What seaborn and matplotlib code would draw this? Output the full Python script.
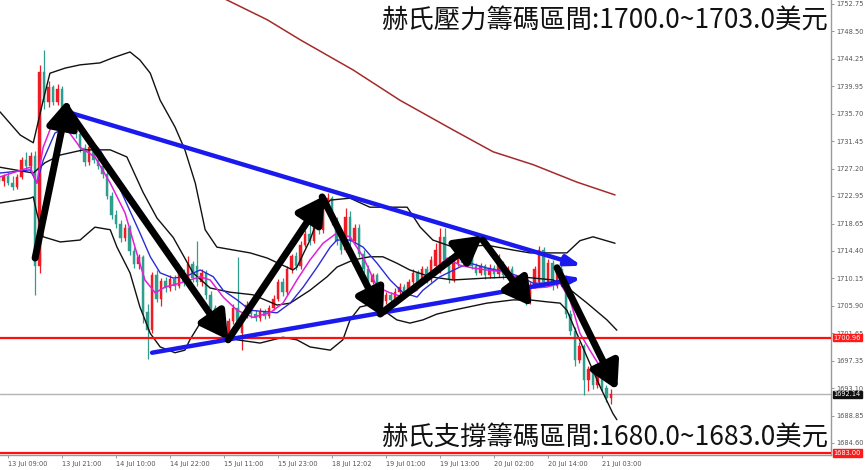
import numpy as np
import pandas as pd
import matplotlib
matplotlib.use('Agg')
import matplotlib.pyplot as plt
import matplotlib.transforms as mtransforms
import seaborn as sns

# 1小时K线 (开, 高, 低, 收)
opens = [1725.8, 1725.2, 1726.0, 1725.0, 1724.4, 1725.9, 1728.6, 1727.6, 1729.2, 1712.0,
         1742.2, 1737.5, 1739.8, 1737.6, 1739.6, 1736.0, 1734.0, 1735.4, 1732.6, 1730.4,
         1728.2, 1730.6, 1728.6, 1727.6, 1726.4, 1723.0, 1720.0, 1718.6, 1716.4, 1718.0,
         1714.4, 1712.4, 1713.4, 1705.0, 1702.2, 1710.6, 1707.0, 1709.8, 1708.6, 1710.0,
         1709.0, 1711.0, 1709.6, 1712.4, 1712.0, 1709.6, 1711.0, 1707.6, 1705.6, 1703.6,
         1702.0, 1701.2, 1703.6, 1705.6, 1701.6, 1704.6, 1706.0, 1704.6, 1704.0, 1705.0,
         1704.3, 1705.6, 1707.0, 1709.6, 1708.0, 1711.6, 1713.6, 1712.0, 1715.4, 1717.0,
         1716.0, 1719.0, 1717.6, 1721.4, 1722.6, 1719.0, 1716.0, 1714.6, 1719.6, 1716.0,
         1718.0, 1714.0, 1711.6, 1709.6, 1710.6, 1707.6, 1706.6, 1707.6, 1706.8, 1708.0,
         1708.8, 1708.0, 1709.6, 1711.0, 1709.6, 1711.6, 1710.0, 1712.0, 1711.6, 1716.6,
         1713.0, 1710.0, 1712.6, 1714.6, 1712.6, 1713.6, 1712.0, 1711.0, 1712.0, 1710.6,
         1711.8, 1710.8, 1712.4, 1710.6, 1711.6, 1709.6, 1708.6, 1707.6, 1706.6, 1709.0,
         1709.6, 1714.6, 1709.6, 1712.6, 1709.0, 1711.6, 1710.2, 1704.6, 1702.0, 1697.4,
         1699.6, 1694.4, 1696.0, 1693.6, 1695.6, 1693.2, 1691.6]
highs = [1726.8, 1726.4, 1726.6, 1726.0, 1726.4, 1729.0, 1729.7, 1729.8, 1730.0, 1743.2,
         1745.6, 1740.8, 1740.2, 1740.4, 1740.0, 1736.8, 1736.0, 1735.8, 1733.2, 1731.0,
         1731.2, 1731.0, 1729.2, 1728.2, 1726.8, 1723.6, 1720.8, 1719.2, 1718.6, 1718.4,
         1715.0, 1714.0, 1713.8, 1706.2, 1711.2, 1711.4, 1710.2, 1710.4, 1710.6, 1710.6,
         1711.6, 1711.6, 1713.6, 1712.8, 1716.0, 1711.6, 1711.4, 1708.2, 1706.0, 1704.2,
         1702.6, 1704.0, 1706.2, 1713.4, 1705.0, 1706.6, 1706.4, 1705.2, 1705.6, 1705.4,
         1706.0, 1707.6, 1710.0, 1710.2, 1712.0, 1714.0, 1714.2, 1716.0, 1717.6, 1719.6,
         1719.6, 1719.6, 1722.0, 1723.4, 1723.0, 1719.6, 1716.6, 1721.0, 1720.6, 1718.6,
         1718.6, 1714.6, 1712.2, 1711.0, 1711.0, 1708.2, 1708.0, 1708.0, 1708.6, 1709.4,
         1709.2, 1710.0, 1711.6, 1711.4, 1712.0, 1712.0, 1713.6, 1715.6, 1718.0, 1718.0,
         1713.6, 1713.0, 1715.6, 1715.0, 1714.0, 1714.0, 1712.6, 1712.6, 1712.4, 1712.4,
         1712.2, 1714.0, 1712.8, 1712.0, 1712.0, 1710.0, 1709.0, 1708.0, 1709.6, 1712.0,
         1715.2, 1715.0, 1713.2, 1713.0, 1712.0, 1713.6, 1710.6, 1705.2, 1702.6, 1700.2,
         1700.0, 1696.6, 1696.4, 1696.0, 1696.0, 1693.6, 1693.0]
lows = [1725.0, 1724.5, 1724.6, 1723.9, 1724.0, 1725.5, 1727.2, 1727.0, 1707.5, 1711.0,
        1736.5, 1736.8, 1737.0, 1737.0, 1735.4, 1733.2, 1733.5, 1732.0, 1729.8, 1727.6,
        1727.8, 1728.0, 1727.2, 1725.8, 1722.4, 1719.4, 1718.0, 1715.8, 1716.0, 1713.8,
        1711.8, 1711.6, 1703.2, 1697.6, 1701.6, 1706.4, 1705.8, 1708.0, 1708.2, 1708.4,
        1708.6, 1709.0, 1709.2, 1709.6, 1709.0, 1709.0, 1707.0, 1705.0, 1703.0, 1701.6,
        1700.4, 1700.8, 1703.0, 1703.0, 1699.0, 1704.0, 1704.0, 1703.6, 1703.6, 1703.8,
        1704.0, 1705.2, 1706.6, 1707.4, 1707.6, 1711.0, 1711.4, 1711.6, 1715.0, 1715.4,
        1715.6, 1717.0, 1717.2, 1720.6, 1718.4, 1715.4, 1714.0, 1714.2, 1715.4, 1715.6,
        1713.4, 1711.0, 1709.0, 1709.2, 1707.0, 1706.0, 1706.2, 1706.2, 1706.4, 1707.6,
        1707.4, 1707.6, 1709.2, 1709.0, 1709.2, 1709.4, 1709.6, 1711.6, 1711.0, 1712.4,
        1709.4, 1709.6, 1712.0, 1712.0, 1712.0, 1711.6, 1710.6, 1710.6, 1710.0, 1710.2,
        1710.2, 1710.4, 1710.0, 1710.2, 1709.0, 1708.0, 1707.0, 1706.0, 1706.2, 1708.6,
        1709.2, 1708.8, 1709.2, 1708.4, 1708.6, 1709.6, 1704.0, 1701.4, 1696.6, 1697.0,
        1692.0, 1692.6, 1693.0, 1693.2, 1692.6, 1691.0, 1690.6]
closes = [1725.2, 1726.0, 1725.0, 1724.4, 1725.9, 1728.6, 1727.6, 1729.2, 1712.0, 1742.2,
          1737.5, 1739.8, 1737.6, 1739.6, 1736.0, 1734.0, 1735.4, 1732.6, 1730.4, 1728.2,
          1730.6, 1728.6, 1727.6, 1726.4, 1723.0, 1720.0, 1718.6, 1716.4, 1718.0, 1714.4,
          1712.4, 1713.4, 1705.0, 1702.2, 1710.6, 1707.0, 1709.8, 1708.6, 1710.0, 1709.0,
          1711.0, 1709.6, 1712.4, 1710.2, 1709.6, 1711.0, 1707.6, 1705.6, 1703.6, 1702.0,
          1701.2, 1703.6, 1705.6, 1703.6, 1704.6, 1706.0, 1704.6, 1704.0, 1705.0, 1704.3,
          1705.6, 1707.0, 1709.6, 1708.0, 1711.6, 1713.6, 1712.0, 1715.4, 1717.0, 1716.0,
          1719.0, 1717.6, 1721.4, 1722.6, 1719.0, 1716.0, 1714.6, 1719.6, 1716.0, 1718.0,
          1714.0, 1711.6, 1709.6, 1710.6, 1707.6, 1706.6, 1707.6, 1706.8, 1708.0, 1708.8,
          1708.0, 1709.6, 1711.0, 1709.6, 1711.6, 1710.0, 1713.0, 1714.6, 1716.6, 1713.0,
          1710.0, 1712.6, 1714.6, 1712.6, 1713.6, 1712.0, 1711.0, 1712.0, 1710.6, 1711.8,
          1710.8, 1712.4, 1710.6, 1711.6, 1709.6, 1708.6, 1707.6, 1706.6, 1709.0, 1711.6,
          1714.6, 1709.6, 1712.6, 1709.0, 1711.6, 1710.2, 1704.6, 1702.0, 1697.4, 1699.6,
          1694.4, 1696.0, 1693.6, 1695.6, 1693.2, 1691.6, 1692.14]

# 布林带 (上轨/中轨/下轨) 与均线
upper_idx = [0.2, 4.7, 7.6, 9.8, 11.3, 14.7, 18, 22.4, 25.3, 29.1, 31.3, 33.6, 35.8, 39.1, 41.3,
             43.6, 45.8, 48.4, 55.8, 59.6, 65.3, 66.2, 69.1, 71.3, 73.6, 78, 82.4, 90.7, 93.6,
             96.4, 100.9, 108.4, 114.2, 118, 121.8, 126.2, 129.1, 132, 136.9]
upper_val = [1736.0, 1732.4, 1731.2, 1737.8, 1742.0, 1742.8, 1743.3, 1743.6, 1744.4, 1745.3,
             1744.05, 1742.0, 1737.8, 1733.65, 1730.1, 1724.95, 1717.7, 1715.0, 1714.1, 1713.3,
             1711.45, 1711.9, 1716.1, 1720.3, 1722.3, 1722.6, 1721.2, 1721.2, 1718.1, 1716.1,
             1715.0, 1715.3, 1714.55, 1714.1, 1714.1, 1714.1, 1716.0, 1716.6, 1715.6]
mid_idx = [0.2, 7.6, 10.2, 13.6, 18.7, 24.7, 28.4, 32, 35.1, 38.7, 43.1, 46.9, 51.3, 56.4, 61.8,
           64.7, 69.1, 72.9, 75.1, 78.7, 82.4, 85.3, 88.4, 91.3, 95.8, 100.9, 108.4, 115.8,
           123.1, 126.2, 130.7, 135.1, 137.3]
mid_val = [1727.4, 1726.5, 1728.1, 1729.3, 1730.1, 1730.1, 1729.0, 1723.5, 1719.5, 1716.5,
           1711.0, 1708.65, 1708.0, 1707.6, 1706.0, 1706.3, 1708.3, 1710.4, 1711.9, 1713.0,
           1713.5, 1713.5, 1712.5, 1711.45, 1710.4, 1709.9, 1710.2, 1710.4, 1709.9, 1708.8,
           1706.3, 1703.7, 1702.1]
lower_idx = [0.2, 6.9, 7.6, 8.4, 9.8, 13.6, 18, 21.3, 24.7, 26.2, 29.1, 31.3, 33.6, 35.8, 39.1,
             41.3, 42.4, 44.7, 47.6, 49.8, 52.9, 58, 63.1, 66.2, 69.1, 73.6, 76.4, 78, 80.2,
             84, 86.2, 88.4, 91.3, 94.2, 97.3, 100.9, 108.4, 114.2, 118, 121.8, 124.7, 126.2,
             128.4, 130.7, 133.6, 136.4, 137.3]
lower_val = [1721.85, 1722.6, 1722.8, 1720.3, 1716.6, 1715.8, 1716.1, 1718.1, 1717.7, 1715.0,
             1711.0, 1705.7, 1701.6, 1699.5, 1698.6, 1699.0, 1700.6, 1703.2, 1703.0, 1701.6,
             1700.6, 1700.1, 1701.0, 1700.6, 1699.5, 1699.0, 1700.6, 1703.7, 1705.7, 1706.3,
             1704.8, 1703.7, 1703.2, 1703.7, 1704.6, 1705.2, 1706.3, 1706.8, 1706.8, 1706.5,
             1706.3, 1705.2, 1701.6, 1697.9, 1693.3, 1689.2, 1688.2]
ma_blue_idx = [0.2, 6.9, 8.4, 9.8, 12.4, 15.8, 18, 22.4, 24.7, 28, 31.3, 33.6, 35.8, 38.7, 41.3,
               44.7, 47.6, 49.8, 52.9, 55.8, 61.8, 64.7, 67.6, 70.7, 73.6, 75.1, 78, 80.9, 84,
               86.9, 89.8, 92.9, 94.2, 98, 102.4, 104.7, 108.4, 112.9, 115.8, 118.7, 121.8,
               124.7, 126.9, 129.1, 131.3, 133.6, 135.8, 137.3]
ma_blue_val = [1726.5, 1727.0, 1724.95, 1728.5, 1732.7, 1733.96, 1733.2, 1730.1, 1727.4, 1722.3,
               1717.2, 1713.5, 1711.0, 1710.2, 1710.4, 1711.45, 1710.4, 1708.3, 1706.8, 1705.2,
               1704.8, 1706.3, 1708.8, 1711.9, 1715.0, 1716.1, 1716.1, 1715.0, 1712.5, 1709.9,
               1707.9, 1707.25, 1708.3, 1710.4, 1711.9, 1712.5, 1711.75, 1711.1, 1710.4, 1709.4,
               1709.4, 1709.4, 1707.9, 1704.8, 1701.6, 1698.6, 1696.4, 1694.8]
ma_pink_idx = [0.2, 6.9, 8.4, 9.8, 12.4, 14.7, 18, 21.3, 24.7, 28, 30.2, 32.4, 34.7, 36.9, 40.2,
               44.7, 46.9, 49.8, 52.9, 56.4, 60.2, 63.1, 66.2, 69.1, 72, 75.1, 78, 80.9, 84,
               86.9, 89.8, 92.9, 94.2, 97.3, 99.6, 102.4, 105.3, 108.4, 112.9, 115.8, 118.7,
               121.8, 124.7, 126.9, 129.1, 131.3, 133.6, 135.8]
ma_pink_val = [1725.9, 1727.4, 1724.95, 1730.5, 1735.2, 1733.65, 1730.5, 1729.0, 1724.95, 1720.3,
               1715.0, 1709.9, 1707.9, 1708.8, 1709.4, 1710.4, 1709.9, 1707.25, 1705.2, 1704.1,
               1704.8, 1706.3, 1709.9, 1713.0, 1715.6, 1717.2, 1716.6, 1713.5, 1708.8, 1707.9,
               1707.25, 1708.3, 1709.9, 1711.9, 1713.3, 1712.2, 1711.75, 1711.45, 1711.1, 1709.9,
               1708.65, 1708.8, 1709.4, 1706.8, 1701.6, 1699.0, 1696.4, 1694.5]
ma_long_idx = [49.1, 59.6, 66.9, 78.7, 89.1, 100.9, 109.8, 118.7, 128.4, 136.9]
ma_long_val = [1753.9, 1750.3, 1747.2, 1742.5, 1737.8, 1733.2, 1729.8, 1727.8, 1725.1, 1723.1]

# 横线: 支撑/压力, 当前价
level_support = 1683.00
level_resist = 1700.96
last_price = 1692.14

# 刻度
ytick_vals = [1752.75, 1748.50, 1744.25, 1739.95, 1735.70, 1731.45, 1727.20, 1722.95, 1718.65,
              1714.40, 1710.15, 1705.90, 1701.65, 1697.35, 1693.10, 1688.85, 1684.60]
xtick_labels = ['13 Jul 09:00', '13 Jul 21:00', '14 Jul 10:00', '14 Jul 22:00', '15 Jul 11:00',
                '15 Jul 23:00', '18 Jul 12:02', '19 Jul 01:00', '19 Jul 13:00', '20 Jul 02:00',
                '20 Jul 14:00', '21 Jul 03:00']
xtick_pos = [2, 14, 26, 38, 50, 62, 74, 86, 98, 110, 122, 134]

# 手绘的箭头 (起点 -> 终点)
black_arrows = [((8.0, 1713.3), (15.3, 1737.9)),
                ((15.3, 1736.3), (50.9, 1700.6)),
                ((50.9, 1700.6), (72.4, 1723.0)),
                ((71.8, 1722.8), (85.3, 1704.2)),
                ((84.7, 1704.6), (107.5, 1716.8)),
                ((107.5, 1716.1), (118.4, 1705.8)),
                ((124.0, 1711.8), (137.4, 1692.8))]
blue_arrows = [((15.1, 1736.0), (129.5, 1712.1)),
               ((34.0, 1698.6), (129.5, 1710.2))]

title_top = '赫氏壓力籌碼區間:1700.0~1703.0美元'
title_bottom = '赫氏支撐籌碼區間:1680.0~1683.0美元'

sns.set_style('white')
plt.rcParams['font.family'] = ['Noto Sans CJK TC', 'DejaVu Sans']
plt.rcParams['axes.unicode_minus'] = False

fig = plt.figure(figsize=(8.65, 4.70), dpi=100)
ax = fig.add_axes([0, 1 - 455 / 470, 831 / 865, 455 / 470])

df = pd.DataFrame({'open': opens, 'high': highs, 'low': lows, 'close': closes})
df['idx'] = np.arange(len(df))
up = df['close'] >= df['open']
col_up = '#ee1c25'
col_dn = '#2f9e8f'
colors = np.where(up, col_up, col_dn)

# K线: 影线 + 实体
ax.vlines(df['idx'], df['low'], df['high'], colors=colors, lw=0.9, zorder=2)
ax.bar(df['idx'], (df['close'] - df['open']).abs().clip(lower=0.25),
       bottom=df[['open', 'close']].min(axis=1), width=0.5, color=colors,
       edgecolor=colors, lw=0.3, zorder=3)

# 指标线
sns.lineplot(x=ma_long_idx, y=ma_long_val, color='#a52a2a', lw=1.1, ax=ax, zorder=4)
sns.lineplot(x=upper_idx, y=upper_val, color='#111111', lw=1.0, ax=ax, zorder=4)
sns.lineplot(x=mid_idx, y=mid_val, color='#111111', lw=1.0, ax=ax, zorder=4)
sns.lineplot(x=lower_idx, y=lower_val, color='#111111', lw=1.0, ax=ax, zorder=4)
sns.lineplot(x=ma_blue_idx, y=ma_blue_val, color='#2b2bd8', lw=1.0, ax=ax, zorder=4)
sns.lineplot(x=ma_pink_idx, y=ma_pink_val, color='#e020d8', lw=1.1, ax=ax, zorder=4)

ax.axhline(level_resist, color='#ff1010', lw=1.6, zorder=5)
ax.axhline(level_support, color='#ff1010', lw=1.6, zorder=5)
ax.axhline(last_price, color='#b4b4b4', lw=1.0, zorder=1)

for (x0, y0), (x1, y1) in blue_arrows:
    ax.annotate('', xy=(x1, y1), xytext=(x0, y0),
                arrowprops=dict(arrowstyle='-|>,head_length=0.9,head_width=0.3', lw=3.2,
                                color='#1a1aee', shrinkA=0, shrinkB=0), zorder=6)
for (x0, y0), (x1, y1) in black_arrows:
    ax.annotate('', xy=(x1, y1), xytext=(x0, y0),
                arrowprops=dict(arrowstyle='-|>,head_length=0.8,head_width=0.45', lw=5,
                                mutation_scale=20, color='black', shrinkA=0, shrinkB=0), zorder=7)

ax.set_xlim(0.2, 184.9)
ax.set_ylim(1682.72, 1753.37)

ax.yaxis.tick_right()
ax.set_yticks(ytick_vals)
ax.set_yticklabels([f'{v:.2f}' for v in ytick_vals], family='DejaVu Sans')
ax.set_xticks(xtick_pos)
ax.set_xticklabels(xtick_labels, ha='left', family='DejaVu Sans')
ax.tick_params(axis='both', labelsize=4.8, labelcolor='#555555', color='#888888',
               length=2, width=0.6, pad=1.5, direction='out')
ax.tick_params(axis='x', bottom=True, pad=2.5)
for s in ['top', 'left']:
    ax.spines[s].set_visible(False)
for s in ['right', 'bottom']:
    ax.spines[s].set_color('#9a9a9a')
    ax.spines[s].set_linewidth(1.0)
ax.set_xlabel('')
ax.set_ylabel('')

# 右侧价格标签
trans = mtransforms.blended_transform_factory(ax.transAxes, ax.transData)
for v, bg in [(level_resist, '#ff1a1a'), (level_support, '#ff1a1a'), (last_price, '#111111')]:
    ax.text(1.003, v, f'{v:.2f}', transform=trans, fontsize=4.8, color='white',
            va='center', ha='left', family='DejaVu Sans', clip_on=False, zorder=10,
            bbox=dict(boxstyle='square,pad=0.12', fc=bg, ec=bg))

ax.text(0.996, 0.954, title_top, transform=ax.transAxes, fontsize=19,
        ha='right', va='center', color='#111111', zorder=9)
ax.text(0.996, 0.038, title_bottom, transform=ax.transAxes, fontsize=19,
        ha='right', va='center', color='#111111', zorder=9)

plt.savefig('out.png', dpi=100)
